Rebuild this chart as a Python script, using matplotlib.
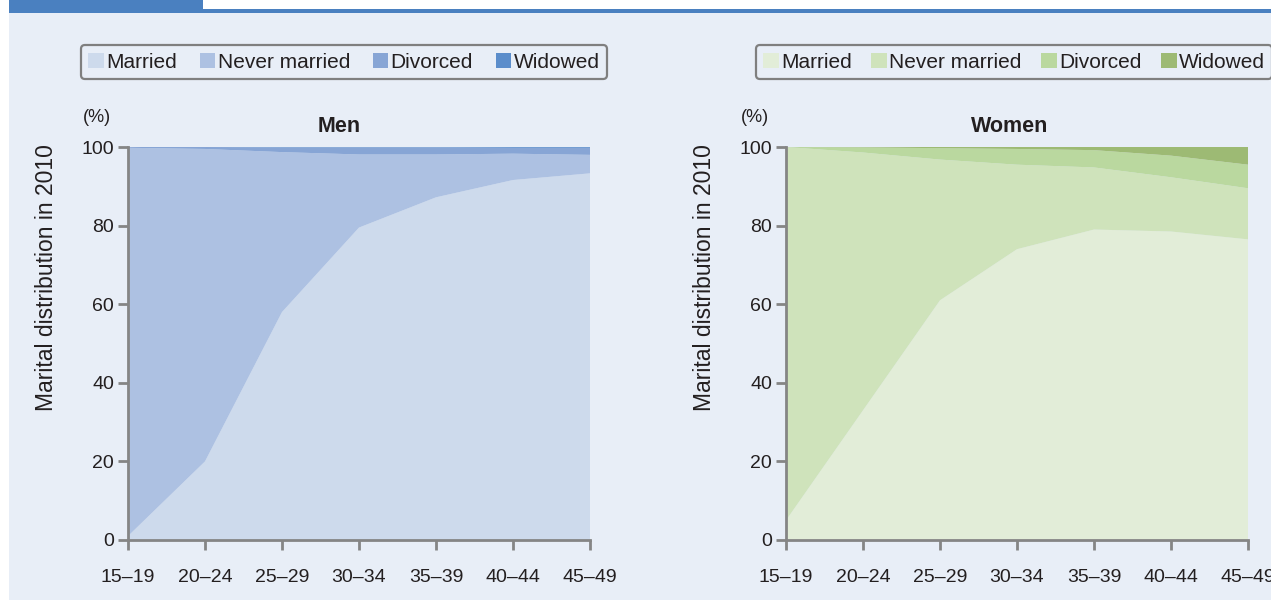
import matplotlib
matplotlib.use("Agg")
import matplotlib.pyplot as plt
from matplotlib.patches import Patch, Rectangle

plt.rcParams['font.family'] = ['Liberation Sans', 'DejaVu Sans']

age_groups = ['15–19', '20–24', '25–29', '30–34', '35–39', '40–44', '45–49']
categories = ['Married', 'Never married', 'Divorced', 'Widowed']

men_married = [1.0, 20.0, 58.0, 79.5, 87.2, 91.6, 93.3]
men_never = [98.8, 79.5, 40.7, 18.6, 10.9, 6.7, 4.7]
men_divorced = [0.2, 0.5, 1.2, 1.8, 1.8, 1.5, 1.8]
men_widowed = [0.0, 0.0, 0.1, 0.1, 0.1, 0.2, 0.2]

women_married = [5.0, 33.0, 61.0, 74.0, 79.0, 78.5, 76.5]
women_never = [95.0, 65.6, 35.8, 21.5, 15.8, 13.8, 13.0]
women_divorced = [0.0, 1.3, 2.9, 4.0, 4.4, 5.5, 6.0]
women_widowed = [0.0, 0.1, 0.3, 0.5, 0.8, 2.2, 4.5]

men_colors = ['#cddaec', '#adc1e2', '#87a5d5', '#5b8dcb']
women_colors = ['#e2edd8', '#cfe3bb', '#bad89f', '#9dba74']

bg = '#e8eef7'
axis_grey = '#858585'
text_col = '#231f20'

fig = plt.figure(figsize=(12.71, 6.03), dpi=100, facecolor='white')

# page background and header strip
fig.patches.append(Rectangle((9 / 1271, 3 / 603), 1 - 9 / 1271, 1 - 16 / 603,
                             transform=fig.transFigure, facecolor=bg,
                             edgecolor='none', zorder=-5))
fig.patches.append(Rectangle((9 / 1271, 1 - 13 / 603), 1, 4 / 603,
                             transform=fig.transFigure, facecolor='#4a80c0',
                             edgecolor='none', zorder=-4))
fig.patches.append(Rectangle((9 / 1271, 1 - 13 / 603), 194 / 1271, 13 / 603,
                             transform=fig.transFigure, facecolor='#4a80c0',
                             edgecolor='none', zorder=-4))

panels = [
    ('Men', [men_married, men_never, men_divorced, men_widowed], men_colors,
     128, 0.457, 344, 1.1),
    ('Women', [women_married, women_never, women_divorced, women_widowed],
     women_colors, 786, 0.485, 1014, 0.95),
]

for title, series, colors, left_px, title_x, legend_cx, colspace in panels:
    ax = fig.add_axes([left_px / 1271, 63 / 603, 462 / 1271, 393 / 603])
    ax.set_facecolor('none')
    x = range(len(age_groups))
    ax.stackplot(x, *series, colors=colors, linewidth=0)
    ax.set_xlim(0, len(age_groups) - 1)
    ax.set_ylim(0, 100)
    ax.set_xticks(list(x))
    ax.set_xticklabels(age_groups)
    ax.set_yticks([0, 20, 40, 60, 80, 100])
    for side in ['top', 'right']:
        ax.spines[side].set_visible(False)
    for side in ['left', 'bottom']:
        ax.spines[side].set_color(axis_grey)
        ax.spines[side].set_linewidth(2)
    ax.tick_params(axis='both', colors=axis_grey, width=2, length=7,
                   labelcolor=text_col, labelsize=14)
    ax.tick_params(axis='x', pad=14)
    ax.tick_params(axis='y', pad=3)
    ax.set_ylabel('Marital distribution in 2010', fontsize=16.5, color=text_col)
    ax.yaxis.set_label_coords(-0.152, 0.667)
    ax.text(title_x, 1.051, title, transform=ax.transAxes, ha='center',
            va='center', fontsize=15.5, fontweight='bold', color=text_col)
    ax.text(-0.067, 1.074, '(%)', transform=ax.transAxes, ha='center',
            va='center', fontsize=13, color=text_col)

    handles = [Patch(facecolor=c, edgecolor='none') for c in colors]
    fig.legend(handles, categories, loc='center',
               bbox_to_anchor=(legend_cx / 1271, 1 - 62 / 603),
               ncol=4, fontsize=15, frameon=True, fancybox=True,
               edgecolor='#7f7f7f', facecolor=bg, framealpha=1,
               handlelength=0.75, handleheight=0.75, handletextpad=0.1,
               columnspacing=colspace, borderpad=0.35, labelcolor=text_col)

for leg in fig.legends:
    leg.get_frame().set_linewidth(1.6)

fig.savefig('out.png', dpi=100, facecolor='white')
